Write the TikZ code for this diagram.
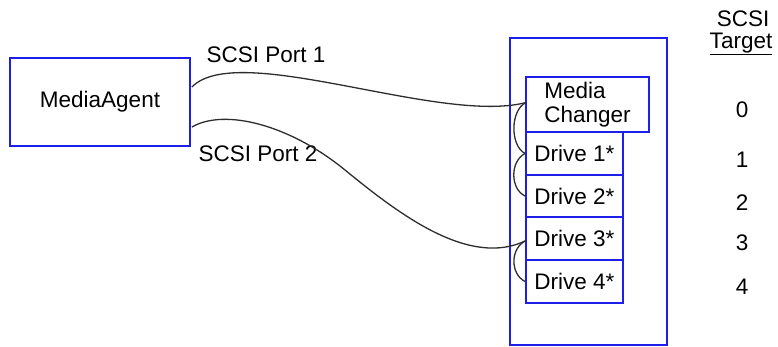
\documentclass[tikz,border=0pt]{standalone}
\usepackage{fontspec}
\setmainfont{Liberation Sans}
\usetikzlibrary{calc}
\definecolor{boxblue}{RGB}{30,30,235}
\definecolor{wire}{RGB}{45,45,45}
\begin{document}
\begin{tikzpicture}[x=1pt,y=-1pt,
  txt/.style={font=\fontsize{22.5}{24}\selectfont, inner sep=0pt},
  bluebox/.style={draw=boxblue, line width=1.8pt, txt, align=left},
  wirec/.style={draw=wire, line width=1.3pt}]
\useasboundingbox (0,0) rectangle (778,346);
% boxes
\node[bluebox, minimum width=180pt, minimum height=88pt] (ma) at (100,102) {MediaAgent};
\node[draw=boxblue, line width=1.8pt, minimum width=157pt, minimum height=307pt, inner sep=0pt] (lib) at (588.5,191.5) {};
\node[bluebox, minimum width=123pt, minimum height=55pt] (mc) at (587.5,104.5) {Media\\Changer};
\node[bluebox, minimum width=97pt, minimum height=43pt] (d1) at (574.5,153.5) {Drive 1*};
\node[bluebox, minimum width=97pt, minimum height=42pt] (d2) at (574.5,196) {Drive 2*};
\node[bluebox, minimum width=97pt, minimum height=43pt] (d3) at (574.5,238.5) {Drive 3*};
\node[bluebox, minimum width=97pt, minimum height=43pt] (d4) at (574.5,281.5) {Drive 4*};
% labels
\node[txt] (p1) at (266,55) {SCSI Port 1};
\node[txt] (p2) at (258,154) {SCSI Port 2};
\node[txt] (h1) at (743,19) {SCSI};
\node[txt] (h2) at (741,44) {\underline{Target}};
\node[txt] (t0) at (742,110) {0};
\node[txt] (t1) at (742,160) {1};
\node[txt] (t2) at (742,203) {2};
\node[txt] (t3) at (742,243) {3};
\node[txt] (t4) at (742,287) {4};
% connectors
\draw[wirec] ($(ma.east)+(1,-15)$) .. controls (238,40) and (440,125) .. ($(mc.west)+(1,-2)$);
\draw[wirec] ($(ma.east)+(1,25)$) .. controls (225,108) and (290,125) .. (345,170)
   .. controls (400,215) and (470,268) .. ($(d3.west)+(1,2)$);
\draw[wirec] ($(mc.west)+(1,-2)$) .. controls (510,110) and (510,146) .. (d1.west);
\draw[wirec] (d1.west) .. controls (510,161) and (510,189) .. (d2.west);
\draw[wirec] ($(d3.west)+(1,2)$) .. controls (510,248) and (510,274) .. (d4.west);
\end{tikzpicture}
\end{document}
